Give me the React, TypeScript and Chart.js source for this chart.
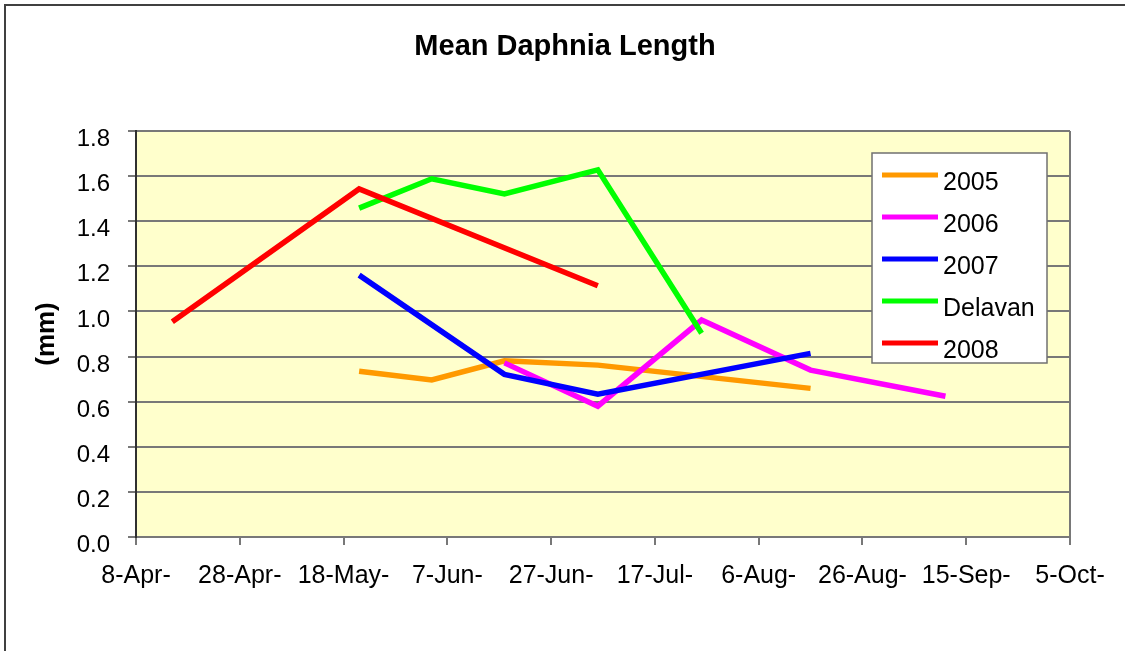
import React, { useEffect, useRef } from 'react';
import { Chart, registerables } from 'chart.js';

Chart.register(...registerables);

// ---- data ----
const X_TICK_LABELS = ['8-Apr-', '28-Apr-', '18-May-', '7-Jun-', '27-Jun-', '17-Jul-', '6-Aug-', '26-Aug-', '15-Sep-', '5-Oct-'];
const Y_TICK_LABELS = ['0.0', '0.2', '0.4', '0.6', '0.8', '1.0', '1.2', '1.4', '1.6', '1.8'];

const SERIES_NAMES = ['2005', '2006', '2007', 'Delavan', '2008'];

const DATES_2005 = ['21-May', '4-Jun', '18-Jun', '6-Jul', '16-Aug'];
const MM_2005 = [0.735, 0.696, 0.781, 0.762, 0.659];

const DATES_2006 = ['18-Jun', '6-Jul', '26-Jul', '16-Aug', '11-Sep'];
const MM_2006 = [0.772, 0.58, 0.962, 0.74, 0.624];

const DATES_2007 = ['21-May', '18-Jun', '6-Jul', '16-Aug'];
const MM_2007 = [1.161, 0.721, 0.633, 0.814];

const DATES_DELAVAN = ['21-May', '4-Jun', '18-Jun', '6-Jul', '26-Jul'];
const MM_DELAVAN = [1.458, 1.588, 1.521, 1.628, 0.903];

const DATES_2008 = ['15-Apr', '21-May', '6-Jul'];
const MM_2008 = [0.954, 1.543, 1.114];

const COLORS = ['#FF9900', '#FF00FF', '#0000FF', '#00FF00', '#FF0000'];

// ---- helpers ----
const MONTHS: Record<string, number> = { Jan: 0, Feb: 1, Mar: 2, Apr: 3, May: 4, Jun: 5, Jul: 6, Aug: 7, Sep: 8, Oct: 9, Nov: 10, Dec: 11 };
const ORIGIN = Date.UTC(2001, 3, 8);
function dayOffset(s: string): number {
  const [d, m] = s.split('-');
  return (Date.UTC(2001, MONTHS[m], parseInt(d, 10)) - ORIGIN) / 86400000;
}
function toPoints(dates: string[], vals: number[]) {
  return dates.map((d, i) => ({ x: dayOffset(d), y: vals[i] }));
}

const FONT = "'Liberation Sans', Arial, sans-serif";
const GRID = '#787878';

const backgroundPlugin = {
  id: 'bgFrame',
  beforeDraw(chart: any) {
    const { ctx, chartArea, width, height } = chart;
    ctx.save();
    ctx.fillStyle = '#FFFFFF';
    ctx.fillRect(0, 0, width, height);
    ctx.fillStyle = '#FFFFCC';
    ctx.fillRect(chartArea.left, chartArea.top, chartArea.right - chartArea.left, chartArea.bottom - chartArea.top);
    ctx.strokeStyle = '#404040';
    ctx.lineWidth = 2;
    ctx.beginPath();
    ctx.moveTo(5, height + 2);
    ctx.lineTo(5, 5);
    ctx.lineTo(width + 2, 5);
    ctx.stroke();
    ctx.restore();
  },
  beforeDatasetsDraw(chart: any) {
    const { ctx, chartArea } = chart;
    ctx.save();
    ctx.strokeStyle = GRID;
    ctx.lineWidth = 2;
    ctx.beginPath();
    ctx.moveTo(chartArea.right, chartArea.top);
    ctx.lineTo(chartArea.right, chartArea.bottom);
    ctx.stroke();
    ctx.restore();
  },
};

const legendPlugin = {
  id: 'boxLegend',
  afterDatasetsDraw(chart: any) {
    const { ctx } = chart;
    const bx = 872, by = 153, bw = 175, bh = 210;
    ctx.save();
    ctx.fillStyle = '#FFFFFF';
    ctx.fillRect(bx, by, bw, bh);
    ctx.strokeStyle = '#707070';
    ctx.lineWidth = 1.5;
    ctx.strokeRect(bx, by, bw, bh);
    chart.data.datasets.forEach((ds: any, i: number) => {
      const y = by + 22 + i * 42;
      ctx.strokeStyle = ds.borderColor;
      ctx.lineWidth = 5;
      ctx.beginPath();
      ctx.moveTo(bx + 10, y);
      ctx.lineTo(bx + 66, y);
      ctx.stroke();
      ctx.fillStyle = '#000000';
      ctx.font = `25px ${FONT}`;
      ctx.textBaseline = 'middle';
      ctx.textAlign = 'left';
      ctx.fillText(ds.label, bx + 71, y + 8.5);
    });
    ctx.restore();
  },
};

export default function App() {
  const ref = useRef<HTMLCanvasElement | null>(null);

  useEffect(() => {
    document.body.style.margin = '0';
    const canvas = ref.current;
    if (!canvas) return;

    const seriesDates = [DATES_2005, DATES_2006, DATES_2007, DATES_DELAVAN, DATES_2008];
    const seriesVals = [MM_2005, MM_2006, MM_2007, MM_DELAVAN, MM_2008];

    const datasets = SERIES_NAMES.map((name, i) => ({
      label: name,
      data: toPoints(seriesDates[i], seriesVals[i]),
      borderColor: COLORS[i],
      backgroundColor: COLORS[i],
      borderWidth: 5.5,
      pointRadius: 0,
      pointHoverRadius: 0,
      tension: 0,
      fill: false,
      borderJoinStyle: 'miter' as const,
      borderCapStyle: 'butt' as const,
      order: SERIES_NAMES.length - i,
    }));

    const chart = new Chart(canvas, {
      type: 'line',
      data: { datasets },
      plugins: [backgroundPlugin, legendPlugin],
      options: {
        animation: false,
        responsive: false,
        events: [],
        layout: { padding: { left: 5, right: 0, top: 0, bottom: 0 } },
        font: { family: FONT },
        plugins: {
          legend: { display: false },
          tooltip: { enabled: false },
          title: {
            display: true,
            text: 'Mean Daphnia Length',
            color: '#000000',
            font: { family: FONT, size: 29, weight: 'bold', lineHeight: 1.2 },
            padding: { top: 30, bottom: 66.2 },
          },
        },
        scales: {
          x: {
            type: 'linear',
            min: 0,
            max: 180,
            afterFit: (s: any) => { s.height = 114; },
            ticks: {
              stepSize: 20,
              autoSkip: false,
              maxRotation: 0,
              minRotation: 0,
              padding: 16,
              color: '#000000',
              font: { family: FONT, size: 25 },
              callback: (_v: any, i: number) => X_TICK_LABELS[i],
            },
            grid: {
              display: true,
              drawOnChartArea: false,
              drawTicks: true,
              tickLength: 8,
              color: GRID,
              lineWidth: 2,
            },
            border: { display: true, color: GRID, width: 2 },
          },
          y: {
            type: 'linear',
            position: 'left',
            min: 0,
            max: 1.8,
            afterFit: (s: any) => { s.width = 131; },
            ticks: {
              stepSize: 0.2,
              padding: 18,
              labelOffset: 8.5,
              color: '#000000',
              font: { family: FONT, size: 24 },
              callback: (_v: any, i: number) => Y_TICK_LABELS[i],
            },
            grid: {
              display: true,
              drawOnChartArea: true,
              drawTicks: true,
              tickLength: 8,
              color: GRID,
              lineWidth: 2,
            },
            border: { display: true, color: '#303030', width: 2 },
            title: {
              display: true,
              text: '(mm)',
              color: '#000000',
              font: { family: FONT, size: 26, weight: 'bold', lineHeight: 1.2 },
              padding: { top: 26, bottom: 0 },
            },
          },
          y2: {
            type: 'linear',
            position: 'right',
            display: true,
            afterFit: (s: any) => { s.width = 55; },
            ticks: { display: false },
            grid: { display: false, drawTicks: false },
            border: { display: false },
          },
        },
      } as any,
    });

    return () => chart.destroy();
  }, []);

  return <canvas ref={ref} width={1125} height={651} style={{ display: 'block', width: '1125px', height: '651px' }} />;
}
